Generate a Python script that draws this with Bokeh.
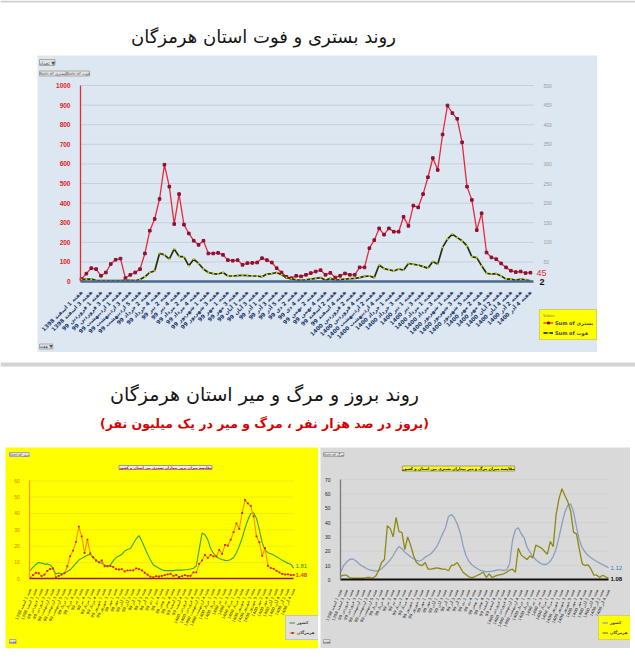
import math
from bokeh.plotting import figure
from bokeh.models import Range1d, LinearAxis, Label, Legend, LegendItem, FixedTicker, Spacer
from bokeh.layouts import column, row
from bokeh.core.properties import value
from bokeh.embed import file_html
from bokeh.resources import INLINE

FA = "DejaVu Sans"
NUM = "Liberation Sans"

# ---------------- texts ----------------
TITLE_TOP = "روند بستری و فوت استان هرمزگان"
TITLE_BOTTOM = "روند بروز و مرگ و میر استان هرمزگان"
SUBTITLE_BOTTOM = "(بروز در صد هزار نفر ، مرگ و میر در یک میلیون نفر)"
TITLE_INCIDENCE = "مقایسه میزان بروز بیماران بستری بین استان و کشور"
TITLE_MORTALITY = "مقایسه میزان مرگ و میر بیماران بستری بین استان و کشور"
LEG_TOP = ["Sum of بستری", "Sum of فوت"]
LEG_BOTTOM = ["کشور", "هرمزگان"]

# ---------------- category (week) labels ----------------
MONTHS = ["اسفند", "فروردین", "اردیبهشت", "خرداد", "تیر", "مرداد", "شهریور", "مهر", "آبان", "آذر", "دی", "بهمن",
          "اسفند", "فروردین", "اردیبهشت", "خرداد", "تیر", "مرداد", "شهریور", "مهر", "آبان", "آذر"]
YEARS = ["1398"] + ["99"] * 12 + ["1400"] * 9
WEEKS_PER_MONTH = [4, 4, 5, 4, 4, 5, 4, 4, 4, 5, 4, 4, 4, 4, 5, 4, 4, 4, 5, 4, 4, 4]
week_labels = []
for m, y, n in zip(MONTHS, YEARS, WEEKS_PER_MONTH):
    for w in range(1, n + 1):
        week_labels.append(f"هفته {w} {m} {y}")

# ---------------- data ----------------
hospitalized = [12, 40, 68, 63, 29, 46, 89, 111, 117, 17,
                34, 46, 63, 143, 259, 319, 421, 596, 484, 293,
                446, 290, 245, 208, 187, 208, 143, 143, 146, 136,
                109, 106, 109, 85, 94, 95, 97, 119, 109, 97,
                68, 46, 24, 17, 29, 26, 34, 43, 51, 58,
                34, 44, 20, 29, 41, 34, 34, 72, 72, 170,
                211, 271, 239, 271, 254, 254, 330, 284, 387, 378,
                446, 532, 630, 569, 750, 898, 859, 830, 710, 484,
                416, 262, 348, 148, 123, 114, 92, 72, 55, 48,
                51, 43, 45]
deaths = [5, 6, 6, 3, 2, 2, 2, 2, 2, 3,
          3, 2, 5, 12, 23, 27, 72, 68, 57, 83,
          64, 63, 40, 57, 46, 32, 23, 20, 19, 23,
          14, 14, 15, 16, 15, 14, 14, 12, 19, 20,
          23, 17, 10, 7, 4, 3, 4, 6, 8, 10,
          3, 8, 3, 5, 6, 7, 8, 10, 13, 14,
          10, 42, 33, 30, 27, 32, 29, 46, 44, 42,
          38, 34, 51, 44, 87, 108, 121, 112, 104, 91,
          63, 61, 40, 21, 19, 20, 14, 6, 6, 3,
          6, 4, 2]
inc_country = [5, 7, 8.8, 10, 9.6, 9, 9, 8.5, 6.5, 3,
               3.5, 3, 3.5, 4.5, 5.5, 7.5, 9.5, 11.5, 12.5, 13.5,
               14.5, 15, 13, 11.5, 10, 9.5, 8.5, 7.5, 8.5, 11,
               13, 14, 15, 17, 18, 18.5, 21.5, 24.5, 26.5, 23,
               19, 15, 11.5, 8.5, 7.5, 6.5, 5.5, 5, 5, 5,
               5, 5.3, 5.3, 5.3, 5.5, 5.7, 6, 6.5, 8, 18,
               28, 27, 24, 18.5, 15.5, 13.5, 12.5, 11.8, 11.3, 11.2,
               11.8, 13, 16, 20, 25, 31, 36, 40, 40.5, 37,
               30, 22, 17.5, 16, 15.3, 14.5, 13.5, 12.5, 11.3, 10.5,
               9.5, 8.8, 6.5]
inc_province = [0.6, 2.2, 3.7, 3.4, 1.6, 2.5, 4.8, 6.0, 6.3, 0.9,
                1.8, 2.5, 3.4, 7.7, 13.9, 17.2, 22.6, 32.0, 26.0, 15.8,
                24.0, 15.6, 13.2, 11.2, 10.1, 11.2, 7.7, 7.7, 7.8, 7.3,
                5.9, 5.7, 5.9, 4.6, 5.1, 5.1, 5.2, 6.4, 5.9, 5.2,
                3.7, 2.5, 1.3, 0.9, 1.6, 1.4, 1.8, 2.3, 2.7, 3.1,
                1.8, 2.4, 1.1, 1.6, 2.2, 1.8, 1.8, 3.9, 3.9, 9.1,
                11.3, 14.6, 12.8, 14.6, 13.7, 13.7, 17.7, 15.3, 20.8, 20.3,
                24.0, 28.6, 33.9, 30.6, 40.3, 48.3, 46.2, 44.6, 38.2, 26.0,
                22.4, 14.1, 18.7, 8.0, 6.6, 6.1, 4.9, 3.9, 3.0, 2.6,
                2.7, 2.3, 2.4]
mort_country = [5.4, 10, 12.4, 14.2, 14.7, 13.5, 11.7, 10, 8.9, 7.7,
                7, 6.5, 6.1, 6.5, 7.7, 9.6, 11.7, 14, 17, 20.5,
                23.3, 21.7, 19.3, 17.7, 15.9, 14.7, 13.5, 13, 14, 15.9,
                17, 18.2, 20.5, 23.3, 27.5, 32.2, 36.4, 44.3, 45.7, 43.4,
                39.2, 33.3, 24, 17, 13, 10.7, 8.9, 7.7, 6.5, 6.1,
                5.6, 5.8, 6.1, 6.5, 7, 7, 6.5, 7, 11.2, 27.5,
                35, 36.4, 32.2, 29.4, 22.8, 19.3, 16.3, 14, 12.4, 11.2,
                10.7, 11.2, 13, 16.3, 21.7, 29.8, 39.2, 47.3, 52, 53.1,
                47.3, 36.8, 27.5, 22.4, 19.3, 17, 15.4, 14, 12.8, 11.7,
                10.7, 9.6, 8.4]
mort_province = [2.6, 3.2, 3.2, 1.6, 1.1, 1.1, 1.1, 1.1, 1.1, 1.6,
                 1.6, 1.1, 2.6, 6.3, 12.1, 14.2, 37.9, 35.8, 30.0, 43.7,
                 33.7, 33.2, 21.1, 30.0, 24.2, 16.8, 12.1, 10.5, 10.0, 12.1,
                 7.4, 7.4, 7.9, 8.4, 7.9, 7.4, 7.4, 6.3, 10.0, 10.5,
                 12.1, 8.9, 5.3, 3.7, 2.1, 1.6, 2.1, 3.2, 4.2, 5.3,
                 1.6, 4.2, 1.6, 2.6, 3.2, 3.7, 4.2, 5.3, 6.8, 7.4,
                 5.3, 22.1, 17.4, 15.8, 14.2, 16.8, 15.3, 24.2, 23.2, 22.1,
                 20.0, 17.9, 26.8, 23.2, 45.8, 56.8, 63.7, 58.9, 54.7, 47.9,
                 33.2, 32.1, 21.1, 11.1, 10.0, 10.5, 7.4, 3.2, 3.2, 1.6,
                 3.2, 2.1, 1.1]
HOSP_TICKS = list(range(0, 1001, 100))
DEATH_TICKS = list(range(50, 501, 50))
INC_TICKS = list(range(0, 61, 10))
MORT_TICKS = list(range(0, 71, 10))
END_LABELS_TOP = ["45", "2"]
END_LABELS_INC = ["1.81", "1.48"]
END_LABELS_MORT = ["1.12", "1.08"]

n = len(hospitalized)
xs = list(range(n))
even_ticks = list(range(0, n, 2))


def base_fig(width, height, xr, yr, bg):
    f = figure(width=width, height=height, x_range=xr, y_range=yr,
               output_backend="svg", toolbar_location=None, min_border=0,
               x_axis_location=None, y_axis_location=None,
               outline_line_color=None, background_fill_color=bg, border_fill_color=bg)
    f.grid.visible = False
    return f


def blank(width, height):
    return base_fig(width, height, Range1d(0, width), Range1d(0, height), "white")


def tag(p, x, y, text, size="4.5px", color="#555555", bg="#e2e2e2", align="left", bold=False, font=FA):
    p.add_layout(Label(x=x, y=y, text=text, text_font=font, text_font_size=size, text_color=color,
                       text_align=align, text_baseline="middle",
                       text_font_style="bold" if bold else "normal",
                       background_fill_color=bg, background_fill_alpha=1.0 if bg else 0.0,
                       border_line_color="#a8a8a8" if bg else None))


def make_axes(p, xloc, yloc, xbounds, ybounds, yticks, ycolor, ylabel_color, ysize,
              xline_color, xline_width, xlabel_size, xlabel_color, xorient, xbold=False, ybold=False):
    xa = LinearAxis(fixed_location=xloc, bounds=xbounds, ticker=FixedTicker(ticks=even_ticks))
    xa.major_label_overrides = {i: week_labels[i] for i in even_ticks}
    xa.major_label_orientation = xorient
    xa.major_label_text_font = FA
    xa.major_label_text_font_size = xlabel_size
    xa.major_label_text_font_style = "bold" if xbold else "normal"
    xa.major_label_text_color = xlabel_color
    xa.axis_line_color = xline_color
    xa.axis_line_width = xline_width
    xa.major_tick_line_color = None
    xa.minor_tick_line_color = None
    xa.major_label_standoff = 4
    p.add_layout(xa, "below")
    ya = LinearAxis(fixed_location=yloc, bounds=ybounds, ticker=FixedTicker(ticks=yticks))
    ya.axis_line_color = ycolor
    ya.axis_line_width = 1.3
    ya.major_tick_line_color = None
    ya.minor_tick_line_color = None
    ya.major_label_text_color = ylabel_color
    ya.major_label_text_font = NUM
    ya.major_label_text_font_size = ysize
    ya.major_label_text_font_style = "bold" if ybold else "normal"
    ya.major_label_standoff = 4
    p.add_layout(ya, "left")


def legend_style(lg, bg, size, gw):
    lg.background_fill_color = bg
    lg.background_fill_alpha = 1
    lg.border_line_color = "#a8a8a8"
    lg.label_text_font = FA
    lg.label_text_font_size = size
    lg.label_text_font_style = "bold"
    lg.label_height = 7
    lg.glyph_height = 5
    lg.glyph_width = gw
    lg.label_standoff = 2
    lg.spacing = 3
    lg.padding = 3
    lg.margin = 0


# ---------------- title block 1 ----------------
t1 = blank(635, 55)
t1.quad(left=[0], right=[635], bottom=[53], top=[55], fill_color="#d0d0d0", line_color=None)
t1.text(x=[263], y=[19], text=[TITLE_TOP], text_font=value(FA), text_font_size="18px",
        text_align="center", text_baseline="middle", text_color="#151515")

# ---------------- top chart (hospitalized / deaths) ----------------
def X1(px):
    return -0.2 + (px - 80) / 4.88


def Y1(py):
    return (281 - py) * 1000 / 196


BG1 = "#dde7f2"
p1 = base_fig(560, 297, Range1d(X1(37), X1(597)), Range1d(Y1(352), Y1(55)), BG1)
p1.extra_y_ranges = {"deaths": Range1d(Y1(352) / 2, Y1(55) / 2)}

p1.segment(x0=X1(80), x1=X1(533), y0=HOSP_TICKS[1:], y1=HOSP_TICKS[1:], line_color="#c6d0dc", line_width=1)
make_axes(p1, 0, X1(80), (X1(80), X1(533)), (0, 1000), HOSP_TICKS, "#e8283a", "#e02020", "6.5px",
          "#4a6890", 2.5, "5.5px", "#1f3a6e", math.pi / 4, xbold=True, ybold=True)

ra = LinearAxis(y_range_name="deaths", fixed_location=X1(533), bounds=(50, 500),
                ticker=FixedTicker(ticks=DEATH_TICKS))
ra.axis_line_color = None
ra.major_tick_line_color = None
ra.minor_tick_line_color = None
ra.major_label_text_font = NUM
ra.major_label_text_font_size = "5px"
ra.major_label_text_color = "#9a9a9a"
ra.major_label_standoff = 4
p1.add_layout(ra, "right")

rh = p1.line(xs, hospitalized, line_color="#e8283a", line_width=1.3)
mh = p1.scatter(xs, hospitalized, marker="square", size=2.6, fill_color="#8e1030", line_color="#8e1030")
rd = p1.line(xs, deaths, y_range_name="deaths", line_color="#27300a", line_width=1.7)
md = p1.scatter(xs, deaths, y_range_name="deaths", marker="square", size=1.8, fill_color="#c8d400",
                line_color=None)

leg1 = Legend(items=[LegendItem(label=LEG_TOP[0], renderers=[rh, mh]),
                     LegendItem(label=LEG_TOP[1], renderers=[rd, md])],
              location=(502, 12), title="Values")
legend_style(leg1, "#ffff00", "5px", 10)
leg1.title_text_font_size = "4px"
leg1.title_text_color = "#777777"
leg1.title_standoff = 1
p1.add_layout(leg1)

p1.add_layout(Label(x=X1(536), y=Y1(272), text=END_LABELS_TOP[0], text_font=NUM, text_font_size="9px",
                    text_color="#e8283a", text_baseline="middle"))
p1.add_layout(Label(x=X1(539), y=Y1(281), text=END_LABELS_TOP[1], text_font=NUM, text_font_size="9px",
                    text_font_style="bold", text_color="#111111", text_baseline="middle"))
tag(p1, X1(39), Y1(62), "تعداد ▼", size="5px")
tag(p1, X1(39), Y1(73), "Sum of بستری", size="4px")
tag(p1, X1(66), Y1(73), "Sum of فوت", size="4px")
tag(p1, X1(39), Y1(346), "هفته ▼", size="4.5px")

row1 = row(Spacer(width=37, height=297), p1, Spacer(width=38, height=297))

# ---------------- title block 2 ----------------
t2 = blank(635, 95)
t2.quad(left=[0], right=[635], bottom=[81], top=[85], fill_color="#d4d4d4", line_color=None)
t2.text(x=[264], y=[54], text=[TITLE_BOTTOM], text_font=value(FA), text_font_size="19px",
        text_align="center", text_baseline="middle", text_color="#151515")
t2.text(x=[264], y=[24], text=[SUBTITLE_BOTTOM], text_font=value(FA), text_font_size="12.5px",
        text_font_style="bold", text_align="center", text_baseline="middle", text_color="#d80000")

# ---------------- bottom-left chart (incidence) ----------------
def X2(px):
    return -0.1 + (px - 29.3) / 2.866


def Y2(py):
    return (578.3 - py) / 1.633


YEL = "#ffff00"
p2 = base_fig(313, 201, Range1d(X2(5), X2(318)), Range1d(Y2(648), Y2(447)), YEL)
p2.segment(x0=X2(29.3), x1=X2(293), y0=INC_TICKS[1:], y1=INC_TICKS[1:], line_color="#e6e620", line_width=0.7)
make_axes(p2, 0, X2(29.3), (X2(29.3), X2(293)), (0, 60), INC_TICKS, "#f0a020", "#e07800", "5px",
          "#9a1a00", 1.6, "4px", "#3a3020", 1.15)
g_c = p2.line(xs, inc_country, line_color="#3aa335", line_width=1.1)
g_p = p2.line(xs, inc_province, line_color="#ff8c00", line_width=1.1)
g_pm = p2.scatter(xs, inc_province, marker="square", size=1.8, fill_color="#cc2200", line_color=None)

p2.add_layout(Label(x=X2(165), y=Y2(467), text=TITLE_INCIDENCE, text_font=FA, text_font_size="3.5px",
                    text_font_style="bold", text_color="#d00000", text_align="center", text_baseline="middle",
                    background_fill_color="#eeeeee", border_line_color="#999999"))
p2.add_layout(Label(x=X2(295), y=Y2(565), text=END_LABELS_INC[0], text_font=NUM, text_font_size="6px",
                    text_color="#2e8b2e", text_baseline="middle"))
p2.add_layout(Label(x=X2(295), y=Y2(574), text=END_LABELS_INC[1], text_font=NUM, text_font_size="6px",
                    text_font_style="bold", text_color="#e04000", text_baseline="middle"))
tag(p2, X2(9), Y2(454), "Sum of بروز", size="3.5px")
tag(p2, X2(9), Y2(641), "هفته", size="3.5px")
leg2 = Legend(items=[LegendItem(label=LEG_BOTTOM[0], renderers=[g_c]),
                     LegendItem(label=LEG_BOTTOM[1], renderers=[g_p, g_pm])], location=(280, 8))
legend_style(leg2, "#e0e0e0", "4px", 6)
p2.add_layout(leg2)

# ---------------- bottom-right chart (mortality) ----------------
def X3(px):
    return -0.1 + (px - 340) / 2.91


def Y3(py):
    return (579.3 - py) / 1.43


GR = "#d9d9d9"
p3 = base_fig(310, 201, Range1d(X3(320), X3(630)), Range1d(Y3(648), Y3(447)), GR)
p3.segment(x0=X3(340), x1=X3(608), y0=MORT_TICKS[1:], y1=MORT_TICKS[1:], line_color="#cdcdcd", line_width=0.7)
make_axes(p3, 0, X3(340), (X3(340), X3(608)), (0, 70), MORT_TICKS, "#7a7a7a", "#222222", "5px",
          "#111111", 1.8, "4px", "#2a2a2a", 1.15)
b_c = p3.line(xs, mort_country, line_color="#8aa0c0", line_width=1.3)
b_p = p3.line(xs, mort_province, line_color="#8c8a12", line_width=1.3)

p3.add_layout(Label(x=X3(458), y=Y3(468), text=TITLE_MORTALITY, text_font=FA, text_font_size="3.8px",
                    text_font_style="bold", text_color="#111111", text_align="center", text_baseline="middle",
                    background_fill_color="#ffff00", border_line_color="#999999"))
p3.add_layout(Label(x=X3(610), y=Y3(567), text=END_LABELS_MORT[0], text_font=NUM, text_font_size="6px",
                    text_color="#3a78c0", text_baseline="middle"))
p3.add_layout(Label(x=X3(610), y=Y3(578), text=END_LABELS_MORT[1], text_font=NUM, text_font_size="6px",
                    text_font_style="bold", text_color="#111111", text_baseline="middle"))
tag(p3, X3(323), Y3(454), "Sum of مرگ", size="3.5px")
tag(p3, X3(323), Y3(641), "هفته", size="3.5px")
leg3 = Legend(items=[LegendItem(label=LEG_BOTTOM[0], renderers=[b_c]),
                     LegendItem(label=LEG_BOTTOM[1], renderers=[b_p])], location=(278, 8))
legend_style(leg3, "#ffff00", "4px", 6)
p3.add_layout(leg3)

row2 = row(Spacer(width=5, height=201), p2, Spacer(width=2, height=201), p3, Spacer(width=5, height=201))

layout = column(t1, row1, t2, row2)
open("out.html", "w").write(file_html(layout, INLINE))
